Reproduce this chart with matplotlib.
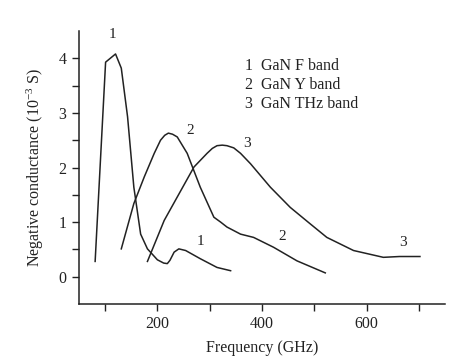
import matplotlib
matplotlib.use("Agg")
import matplotlib.pyplot as plt
import numpy as np

plt.rcParams['font.family'] = ['Liberation Serif', 'DejaVu Serif']
plt.rcParams['mathtext.fontset'] = 'custom'
plt.rcParams['mathtext.rm'] = 'Liberation Serif'
plt.rcParams['mathtext.it'] = 'Liberation Serif:italic'

# curve 1: GaN F band
f1 = [81, 101, 120, 131, 143, 155, 168, 181, 200, 212, 219, 224, 232, 241, 254, 282, 314, 340]
g1 = [0.28, 3.93, 4.08, 3.82, 2.93, 1.64, 0.78, 0.51, 0.31, 0.25, 0.24, 0.30, 0.45, 0.51, 0.48, 0.33, 0.17, 0.11]

# curve 2: GaN Y band
f2 = [131, 155, 175, 194, 206, 214, 221, 229, 238, 257, 282, 308, 321, 333, 359, 384, 422, 467, 521]
g2 = [0.51, 1.34, 1.83, 2.26, 2.50, 2.59, 2.63, 2.61, 2.56, 2.26, 1.64, 1.09, 1.00, 0.91, 0.78, 0.72, 0.54, 0.29, 0.07]

# curve 3: GaN THz band
f3 = [181, 213, 238, 270, 295, 305, 314, 324, 333, 346, 359, 378, 416, 454, 492, 524, 575, 632, 663, 702]
g3 = [0.28, 1.03, 1.46, 2.01, 2.26, 2.35, 2.40, 2.41, 2.40, 2.36, 2.26, 2.07, 1.64, 1.27, 0.97, 0.72, 0.48, 0.355, 0.37, 0.37]

curve_labels = [("1", 114, 4.31), ("1", 282, 0.53), ("2", 262, 2.56),
                ("2", 438, 0.61), ("3", 372, 2.33), ("3", 669, 0.51)]
legend_lines = ["1  GaN F band", "2  GaN Y band", "3  GaN THz band"]

fig = plt.figure(figsize=(4.67, 3.63), dpi=100)
ax = fig.add_axes([0.169, 0.1625, 0.784, 0.752])

for f, g in [(f1, g1), (f2, g2), (f3, g3)]:
    ax.plot(f, g, color='#222222', lw=1.1)

for txt, x, y in curve_labels:
    ax.text(x, y, txt, fontsize=11, ha='center', va='bottom', color='#222222')

for i, line in enumerate(legend_lines):
    fig.text(245 / 467, 1 - (66 + 19 * i) / 363, line, fontsize=11.5,
             ha='left', va='center', color='#222222')

ax.set_xlim(50, 750)
ax.set_ylim(-0.5, 4.5)
ax.set_xticks([200, 400, 600])
ax.set_xticks([100, 300, 500, 700], minor=True)
ax.set_yticks([0, 1, 2, 3, 4])
ax.set_yticks([0.5, 1.5, 2.5, 3.5], minor=True)
ax.tick_params(which='both', direction='out', length=5, width=1, colors='#222222',
               labelsize=11.5)
ax.tick_params(axis='y', pad=4)

ax.spines['top'].set_visible(False)
ax.spines['right'].set_visible(False)
for s in ['left', 'bottom']:
    ax.spines[s].set_color('#222222')
    ax.spines[s].set_linewidth(1.1)

ax.set_xlabel('Frequency (GHz)', fontsize=11.5, labelpad=6, color='#222222')
ax.set_ylabel(r'Negative conductance (10$^{-3}$ S)', fontsize=11.5, labelpad=9, color='#222222')

fig.savefig('out.png', dpi=100)
